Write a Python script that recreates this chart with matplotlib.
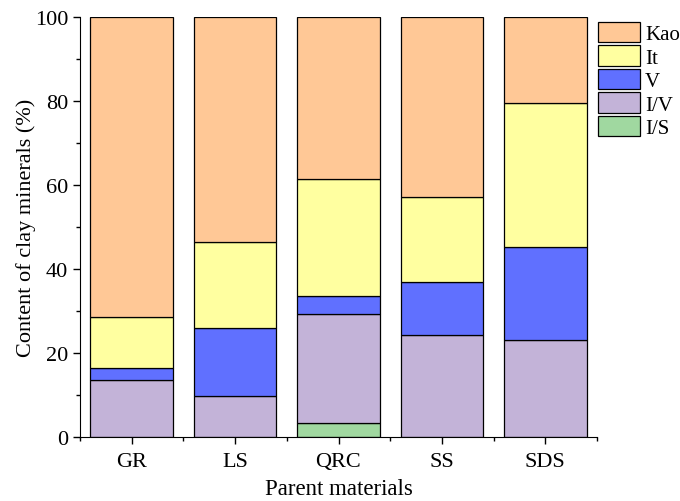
import matplotlib
matplotlib.use("Agg")
import matplotlib.pyplot as plt
import numpy as np
from matplotlib.ticker import MultipleLocator, FixedLocator

plt.rcParams['font.family'] = ['Liberation Serif', 'DejaVu Serif']

categories = ["GR", "LS", "QRC", "SS", "SDS"]
IS = [0.0, 0.0, 3.3, 0.0, 0.0]
IV = [13.6, 9.8, 26.0, 24.3, 23.1]
V = [2.8, 16.2, 4.2, 12.5, 22.1]
It = [12.1, 20.4, 27.9, 20.3, 34.3]
Kao = [71.5, 53.6, 38.6, 42.9, 20.5]

series = [("I/S", IS, "#A0D8A0"), ("I/V", IV, "#C3B3D8"), ("V", V, "#6070FF"),
          ("It", It, "#FFFFA0"), ("Kao", Kao, "#FFC896")]

fig = plt.figure(figsize=(6.8, 5.02), dpi=100)
ax = fig.add_axes([80/680, 64/502, 517/680, 420/502])
x = np.arange(len(categories))
bottom = np.zeros(len(categories))
handles = []
for name, vals, col in series:
    vals = np.array(vals)
    h = ax.bar(x, vals, 0.8, bottom=bottom, color=col, edgecolor="black", linewidth=0.9, label=name)
    handles.append(h)
    bottom += vals

ax.set_xlim(-0.5, 4.5)
ax.set_ylim(0, 100)
ax.set_xticks(x)
ax.set_xticklabels(categories)
ax.xaxis.set_minor_locator(FixedLocator(np.arange(-0.5, 5, 1)))
ax.yaxis.set_major_locator(MultipleLocator(20))
ax.yaxis.set_minor_locator(MultipleLocator(10))
ax.tick_params(axis='both', which='major', direction='out', length=5, width=1, labelsize=16)
ax.tick_params(axis='x', which='major', pad=6)
ax.tick_params(axis='both', which='minor', direction='out', length=3, width=1)
for s in ['top', 'right']:
    ax.spines[s].set_visible(False)
ax.set_xlabel("Parent materials", fontsize=16.5, labelpad=5)
ax.set_ylabel("Content of clay minerals (%)", fontsize=16, labelpad=-1)

leg = fig.legend(handles[::-1], [s[0] for s in series][::-1], loc='upper left',
                 bbox_to_anchor=(598/680, 1 - 23/502), bbox_transform=fig.transFigure,
                 frameon=False, fontsize=15,
                 handlelength=2.0, handleheight=1.12, labelspacing=0.06,
                 handletextpad=0.25, borderaxespad=0.0, borderpad=0.0)
fig.savefig("out.png", dpi=100)
